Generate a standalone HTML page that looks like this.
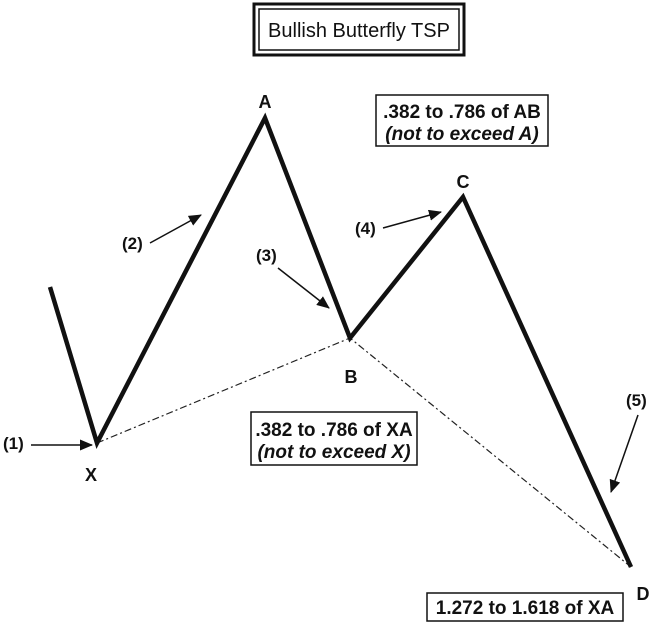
<!DOCTYPE html>
<html><head><style>
html,body{margin:0;padding:0;background:#fff;}
svg{display:block;}
text{font-family:"Liberation Sans",Arial,sans-serif;fill:#111;}
</style></head><body>
<svg width="654" height="626" viewBox="0 0 654 626" xmlns="http://www.w3.org/2000/svg">
<defs>
<marker id="ah" markerWidth="13" markerHeight="11" refX="12" refY="5.5" orient="auto" markerUnits="userSpaceOnUse">
<path d="M0,0 L13,5.5 L0,11 z" fill="#111"/>
</marker>
</defs>
<rect x="254" y="4" width="210" height="51" fill="none" stroke="#111" stroke-width="3"/>
<rect x="259" y="9" width="200" height="41" fill="none" stroke="#111" stroke-width="1.5"/>
<text x="359" y="37" font-size="20" text-anchor="middle">Bullish Butterfly TSP</text>
<polyline points="97,443 350,338 631,567" fill="none" stroke="#222" stroke-width="1.2" stroke-dasharray="7,3,2,3"/>
<polyline points="50,287 97,443 265,118 350,338 463,197 631,567" fill="none" stroke="#111" stroke-width="4.5" stroke-linejoin="miter"/>
<g font-weight="bold" font-size="18" text-anchor="middle">
<text x="265" y="108">A</text>
<text x="351" y="383">B</text>
<text x="463" y="188">C</text>
<text x="643" y="600">D</text>
<text x="91" y="481">X</text>
</g>
<g font-weight="bold" font-size="17">
<text x="3" y="449">(1)</text>
<text x="122" y="249">(2)</text>
<text x="256" y="261">(3)</text>
<text x="355" y="234">(4)</text>
<text x="626" y="406">(5)</text>
</g>
<g stroke="#111" stroke-width="1.5" marker-end="url(#ah)">
<line x1="31" y1="445" x2="92" y2="445"/>
<line x1="150" y1="243" x2="201" y2="215"/>
<line x1="278" y1="268" x2="329" y2="308"/>
<line x1="383" y1="228" x2="441" y2="212"/>
<line x1="638" y1="415" x2="611" y2="492"/>
</g>
<rect x="376" y="95" width="172" height="51" fill="#fff" stroke="#111" stroke-width="1.5"/>
<text x="462" y="118" font-size="19" font-weight="bold" text-anchor="middle">.382 to .786 of AB</text>
<text x="462" y="140" font-size="19" font-weight="bold" font-style="italic" text-anchor="middle">(not to exceed A)</text>
<rect x="251" y="412" width="166" height="53" fill="#fff" stroke="#111" stroke-width="1.5"/>
<text x="334" y="436" font-size="19" font-weight="bold" text-anchor="middle">.382 to .786 of XA</text>
<text x="334" y="458" font-size="19" font-weight="bold" font-style="italic" text-anchor="middle">(not to exceed X)</text>
<rect x="427" y="593" width="196" height="28" fill="#fff" stroke="#111" stroke-width="1.5"/>
<text x="525" y="614" font-size="19" font-weight="bold" text-anchor="middle">1.272 to 1.618 of XA</text>
</svg>
</body></html>
